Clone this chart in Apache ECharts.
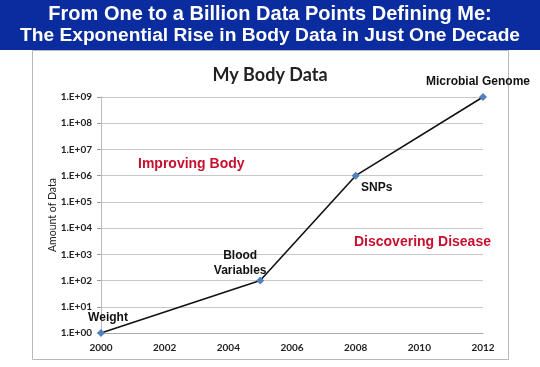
<!DOCTYPE html>
<html><head><meta charset="utf-8">
<style>html,body{margin:0;padding:0;background:#fff}#c{width:540px;height:367px}</style>
<script src="https://cdn.jsdelivr.net/npm/echarts@6/dist/echarts.min.js"></script>
</head><body><div id="c"></div>
<script>
const years = [2000, 2005, 2008, 2012];
const amounts = [1, 100, 1000000, 1000000000];
const pointNames = ['Weight', 'Blood\nVariables', 'SNPs', 'Microbial Genome'];
const yTicks = ['1.E+00','1.E+01','1.E+02','1.E+03','1.E+04','1.E+05','1.E+06','1.E+07','1.E+08','1.E+09'];

const labelOffsets = [[7, -15], [-20, -17], [21, 12], [-5, -15]];
const chart = echarts.init(document.getElementById('c'));
const data = years.map((y, i) => ({
  value: [y, amounts[i]],
  label: { show: true, formatter: pointNames[i], position: 'inside', offset: labelOffsets[i] }
}));
chart.setOption({
  animation: false,
  backgroundColor: '#fff',
  title: {
    text: 'My Body Data', left: 'center', top: 61,
    textStyle: { fontFamily: 'Lato', fontWeight: 'bold', fontSize: 18, color: '#222' }
  },
  grid: { left: 101, right: 57, top: 97, bottom: 34 },
  xAxis: {
    type: 'value', min: 2000, max: 2012, interval: 2,
    axisLine: { show: true, lineStyle: { color: '#aaa' } },
    axisTick: { show: false },
    splitLine: { show: false },
    axisLabel: { color: '#222', fontFamily: 'Lato', fontWeight: 'bold', fontSize: 10, margin: 10,
      formatter: v => String(v) }
  },
  yAxis: {
    type: 'log', logBase: 10, min: 1, max: 1e9,
    name: 'Amount of Data', nameLocation: 'middle', nameGap: 43, nameMoveOverlap: false,
    nameTextStyle: { fontFamily: 'Lato', fontSize: 10.5, color: '#222' },
    axisLine: { show: true, lineStyle: { color: '#bbb' } },
    axisTick: { show: true, length: 4, lineStyle: { color: '#999' } },
    splitLine: { show: true, lineStyle: { color: '#c8c8c8' } },
    axisLabel: {
      color: '#222', fontFamily: 'Lato', fontWeight: 'bold', fontSize: 10, margin: 9,
      formatter: v => yTicks[Math.round(Math.log10(v))]
    }
  },
  series: [{
    type: 'line', data: data,
    symbol: 'diamond', symbolSize: 8,
    itemStyle: { color: '#4f81bd' },
    lineStyle: { color: '#111', width: 1.6 },
    label: { color: '#111', fontFamily: 'Liberation Sans', fontWeight: 'bold', fontSize: 12, lineHeight: 15 }
  }],
  graphic: [
    { type: 'rect', shape: { x: 0, y: 0, width: 540, height: 50 }, style: { fill: '#0b2c9f' }, z: -10 },
    { type: 'text', left: 'center', top: 4, style: { text: 'From One to a Billion Data Points Defining Me:', fill: '#fff', font: 'bold 20px "Liberation Sans"' } },
    { type: 'text', left: 'center', top: 26, style: { text: 'The Exponential Rise in Body Data in Just One Decade', fill: '#fff', font: 'bold 19.2px "Liberation Sans"' } },
    { type: 'rect', shape: { x: 32.5, y: 50.5, width: 476, height: 309 }, style: { fill: 'none', stroke: '#b8b8b8', lineWidth: 1 }, z: -5 },
    { type: 'text', left: 138, top: 157, style: { text: 'Improving Body', fill: '#c8102e', font: 'bold 14px "Liberation Sans"' } },
    { type: 'text', left: 354, top: 235, style: { text: 'Discovering Disease', fill: '#c8102e', font: 'bold 14px "Liberation Sans"' } }
  ]
});
</script></body></html>
